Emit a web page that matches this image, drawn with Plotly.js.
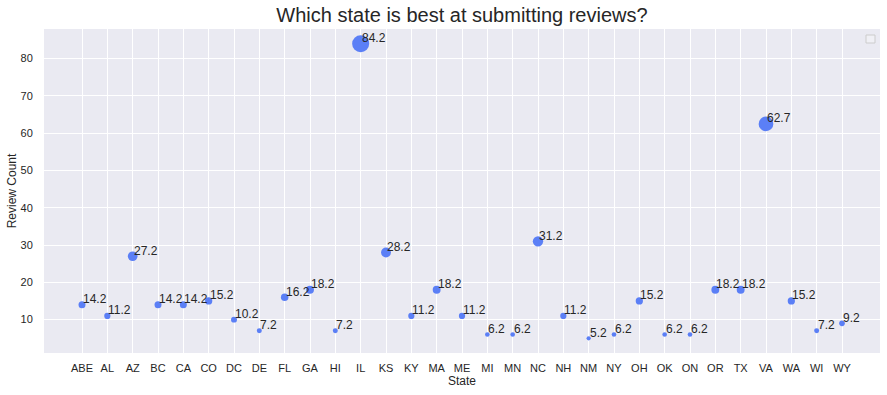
<!DOCTYPE html>
<html>
<head>
<meta charset="utf-8">
<script src="https://cdn.plot.ly/plotly-3.0.1.min.js"></script>
<style>html,body{margin:0;padding:0;background:#fff;}#chart{width:887px;height:395px;}</style>
</head>
<body>
<div id="chart"></div>
<script>
const states = ["ABE","AL","AZ","BC","CA","CO","DC","DE","FL","GA","HI","IL","KS","KY","MA","ME","MI","MN","NC","NH","NM","NY","OH","OK","ON","OR","TX","VA","WA","WI","WY"];
const reviewCounts = [14,11,27,14,14,15,10,7,16,18,7,84,28,11,18,11,6,6,31,11,5,6,15,6,6,18,18,62.5,15,7,9];
const labelOffset = 0.2;

const vmin = Math.min(...reviewCounts), vmax = Math.max(...reviewCounts);
const sizes = reviewCounts.map(v => Math.sqrt(18 + (v - vmin) * (290 - 18) / (vmax - vmin)));

const xIdx = states.map((s, i) => i);
const annotations = reviewCounts.map((v, i) => ({
  x: i, y: v + labelOffset, xref: 'x', yref: 'y',
  text: (v + labelOffset).toFixed(1), showarrow: false,
  xanchor: 'left', yanchor: 'bottom', xshift: -1, yshift: -4,
  font: {family: 'Liberation Sans, Arial, sans-serif', size: 12, color: '#262626'}
}));

const trace = {
  x: xIdx, y: reviewCounts, mode: 'markers', type: 'scatter',
  marker: {size: sizes, color: '#5b7ff6', opacity: 1, line: {width: 0}},
  hoverinfo: 'x+y', showlegend: false
};

const layout = {
  width: 887, height: 395,
  margin: {l: 44, r: 7, t: 29, b: 42},
  paper_bgcolor: '#ffffff', plot_bgcolor: '#eaeaf2',
  font: {family: 'Liberation Sans, Arial, sans-serif', color: '#262626', size: 11},
  title: {text: 'Which state is best at submitting reviews?', font: {size: 20, color: '#262626'}, x: 0.5, xref: 'paper', xanchor: 'center', y: 0.963, yanchor: 'middle'},
  xaxis: {
    range: [-1.5, states.length + 0.5], tickmode: 'array', tickvals: xIdx, ticktext: states,
    showgrid: true, gridcolor: '#ffffff', gridwidth: 1, zeroline: false, showline: false,
    ticks: 'outside', ticklen: 5, tickcolor: 'rgba(0,0,0,0)', tickfont: {size: 11, color: '#262626'},
    title: {text: 'State', font: {size: 12, color: '#262626'}, standoff: 3}
  },
  yaxis: {
    range: [1.05, 87.95], tickmode: 'array', tickvals: [10,20,30,40,50,60,70,80],
    showgrid: true, gridcolor: '#ffffff', gridwidth: 1, zeroline: false, showline: false,
    ticks: 'outside', ticklen: 8, tickcolor: 'rgba(0,0,0,0)', tickfont: {size: 11, color: '#262626'},
    title: {text: 'Review Count', font: {size: 12, color: '#262626'}, standoff: 1}
  },
  annotations: annotations,
  shapes: [{type: 'rect', xref: 'paper', yref: 'paper',
    x0: (866 - 44) / 836, x1: (875 - 44) / 836,
    y0: (353 - 43) / 324, y1: (353 - 35) / 324,
    line: {color: '#cccccc', width: 1}, fillcolor: '#f0f0f5', layer: 'above'}],
  showlegend: false
};

Plotly.newPlot('chart', [trace], layout, {displayModeBar: false, staticPlot: true});
</script>
</body>
</html>
